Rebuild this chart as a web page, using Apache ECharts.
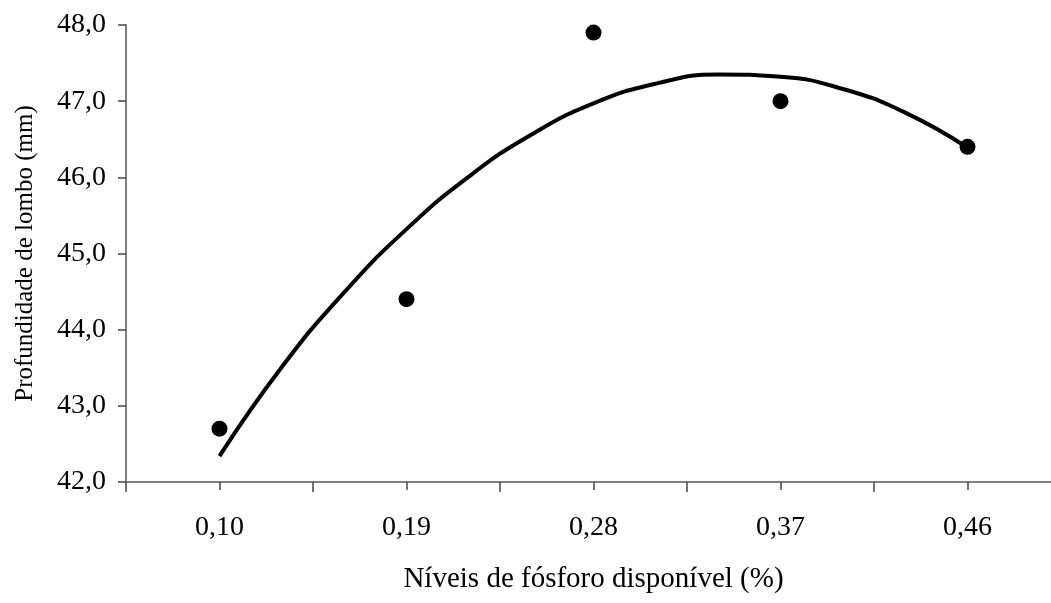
<!DOCTYPE html>
<html>
<head>
<meta charset="utf-8">
<title>Profundidade de lombo</title>
<script src="https://cdn.jsdelivr.net/npm/echarts@6/dist/echarts.min.js"></script>
<style>
  html, body { margin: 0; padding: 0; background: #fff; overflow: hidden; }
  /* the x axis runs a little past the right edge of the window */
  #chart { width: 1061px; height: 603px; }
</style>
</head>
<body>
<div id="chart"></div>
<script>
// Phosphorus levels (categories shown on the axis)
const categories = ['0,10', '0,19', '0,28', '0,37', '0,46'];
// Observed means
const levels = [0.10, 0.19, 0.28, 0.37, 0.46];
const depth = [42.7, 44.4, 47.9, 47.0, 46.4];
// Fitted quadratic trend, sampled along the x range
const trendX = [0.10, 0.13, 0.16, 0.19, 0.22, 0.25, 0.28, 0.31, 0.34, 0.37, 0.40, 0.43, 0.46];
const trendY = [42.34, 43.51, 44.49, 45.32, 46.01, 46.56, 46.97, 47.23, 47.35, 47.32, 47.16, 46.85, 46.39];
// Value axis range and ticks
const yMin = 42, yMax = 48, yStep = 1;
const xMin = 0.055, xMax = 0.505;

const FONT = '"Liberation Serif", "Times New Roman", Times, serif';
const comma = v => v.toFixed(1).replace('.', ',');

const chart = echarts.init(document.getElementById('chart'), null, { renderer: 'canvas' });

chart.setOption({
  animation: false,
  backgroundColor: '#ffffff',
  grid: { left: 126, right: 0, top: 25, bottom: 121, containLabel: false },
  xAxis: [
    {
      type: 'category',
      data: categories,
      boundaryGap: true,
      position: 'bottom',
      name: 'Níveis de fósforo disponível (%)',
      nameLocation: 'middle',
      nameGap: 83,
      nameTextStyle: { fontFamily: FONT, fontSize: 29, color: '#000' },
      axisLine: { show: true, lineStyle: { color: '#808080', width: 2 } },
      axisTick: { show: true, length: 10, lineStyle: { color: '#444', width: 1.5 } },
      axisLabel: { margin: 32, fontFamily: FONT, fontSize: 28, color: '#000' },
      splitLine: { show: false }
    },
    {
      type: 'category',
      data: categories,
      boundaryGap: true,
      position: 'bottom',
      axisLine: { show: false },
      axisTick: { show: true, alignWithLabel: true, length: 8, lineStyle: { color: '#444', width: 1.5 } },
      axisLabel: { show: false },
      splitLine: { show: false }
    },
    {
      type: 'value',
      min: xMin,
      max: xMax,
      show: false,
      splitLine: { show: false }
    }
  ],
  yAxis: {
    type: 'value',
    min: yMin,
    max: yMax,
    interval: yStep,
    name: 'Profundidade de lombo (mm)',
    nameLocation: 'middle',
    nameGap: 88,
    nameTextStyle: { fontFamily: FONT, fontSize: 25, color: '#000' },
    axisLine: { show: true, lineStyle: { color: '#808080', width: 2 } },
    axisTick: { show: true, length: 8, lineStyle: { color: '#444', width: 1.5 } },
    axisLabel: { margin: 20, fontFamily: FONT, fontSize: 28, color: '#000', formatter: comma },
    splitLine: { show: false }
  },
  series: [
    {
      type: 'line',
      xAxisIndex: 2,
      data: trendX.map((x, i) => [x, trendY[i]]),
      smooth: true,
      showSymbol: false,
      lineStyle: { color: '#000', width: 4 },
      z: 2
    },
    {
      type: 'scatter',
      xAxisIndex: 2,
      data: levels.map((x, i) => [x, depth[i]]),
      symbol: 'circle',
      symbolSize: 16,
      itemStyle: { color: '#000', opacity: 1 },
      z: 3
    }
  ]
});
</script>
</body>
</html>
